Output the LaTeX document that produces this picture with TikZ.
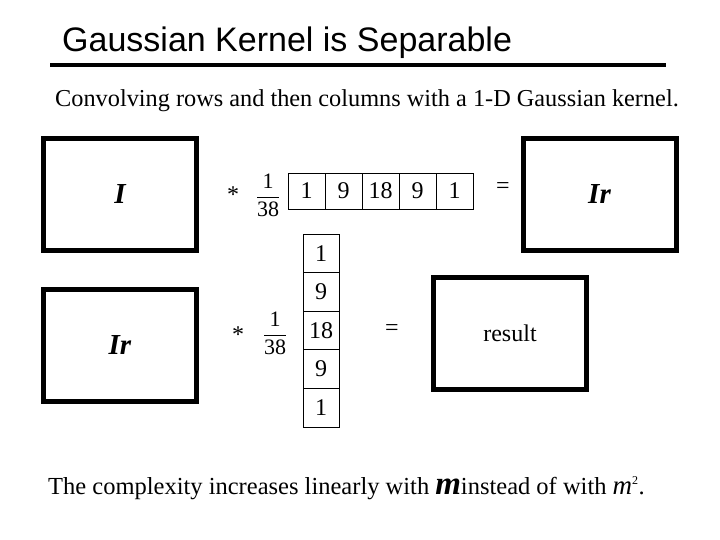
\documentclass[tikz,border=0pt]{standalone}
\usepackage{fontspec}
\setmainfont{Liberation Serif}
\newfontfamily\headfont{Liberation Sans}
\usetikzlibrary{positioning}
\tikzset{
  base/.style={font=\fontsize{24}{26}\selectfont, inner sep=0pt, text=black},
  imgbox/.style={base, rectangle, draw=black, line width=5pt, minimum width=153pt, minimum height=112pt, font=\fontsize{29}{30}\selectfont\bfseries\itshape},
  cell/.style={base, rectangle, draw=black, line width=0.8pt, minimum width=37pt, minimum height=36pt},
  vcell/.style={cell, minimum width=36pt, minimum height=38.6pt},
  op/.style={base},
  frac/.style={base, font=\fontsize{22}{22}\selectfont},
}
\newcommand{\kfrac}{$\displaystyle\frac{\mbox{1}}{\mbox{38}}$}

\begin{document}
\begin{tikzpicture}[x=1pt,y=-1pt]
  \useasboundingbox (0,0) rectangle (720,540);
  % heading
  \node[anchor=base west, font=\fontsize{34}{36}\headfont, inner sep=0pt] (title) at (62,52) {Gaussian Kernel is Separable};
  \draw[line width=4pt] (50,65.5) -- (666,65.5);
  \node[base, anchor=base west, font=\fontsize{24.3}{26}\selectfont] (sub) at (55,107) {Convolving rows and then columns with a 1-D Gaussian kernel.};
  % row pass
  \node[imgbox] (img) at (120,194.5) {I};
  \node[op] (ast1) at (233,195) {*};
  \node[frac] (f1) at (268,195) {\kfrac};
  \foreach \v [count=\i] in {1,9,18,9,1}{
    \node[cell] (r\i) at (306.5+37*\i-37,191) {\v};
  }
  \node[op] (eq1) at (503,188) {=};
  \node[imgbox] (imgr) at (599.5,194.5) {Ir};
  % column pass
  \node[imgbox] (imgr2) at (120,345) {Ir};
  \node[op] (ast2) at (238,335) {*};
  \node[frac] (f2) at (275,333) {\kfrac};
  \foreach \v [count=\i] in {1,9,18,9,1}{
    \node[vcell] (c\i) at (321,253.3+38.6*\i-38.6) {\v};
  }
  \node[op] (eq2) at (392,330) {=};
  \node[imgbox, font=\fontsize{24}{26}\selectfont] (res) at (510,333) {result};
  % remark
  \node[base, anchor=base west, font=\fontsize{24.5}{26}\selectfont] (note) at (48,494) {The complexity increases linearly with \textbf{\textit{\fontsize{33}{34}\selectfont m}}instead of with \textit{\fontsize{27}{28}\selectfont m}\textsuperscript{\fontsize{12}{12}\selectfont 2}.};
\end{tikzpicture}
\end{document}
